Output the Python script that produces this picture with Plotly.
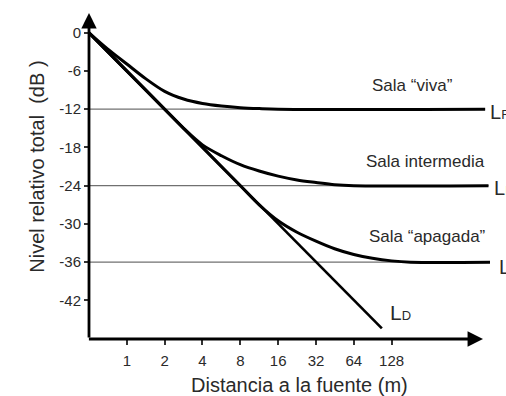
import plotly.graph_objects as go

# Distance (m) and total relative level (dB) for each room type
dist_direct = [0.5, 107]
level_direct = [0, -46.4]

dist_viva = [0.5, 0.71, 1.0, 1.41, 2.0, 2.83, 4.0, 5.66, 8.0, 11.3, 16, 710]
level_viva = [0, -2.6, -4.9, -7.2, -9.2, -10.4, -11.1, -11.5, -11.75, -11.9, -12, -12]

dist_inter = [0.5, 1.0, 2.0, 2.83, 4.0, 5.66, 8.0, 11.3, 16, 22.6, 32, 45, 64, 755]
level_inter = [0, -6, -12, -15, -17.6, -19.3, -20.7, -21.7, -22.5, -23.1, -23.5, -23.85, -24, -24]

dist_apag = [0.5, 2.0, 8.0, 11.3, 16, 22.6, 32, 45, 64, 90, 128, 181, 826]
level_apag = [0, -12, -24, -27, -29.5, -31.3, -32.7, -33.9, -34.8, -35.4, -35.8, -36, -36]

# Reverberant field levels (horizontal reference lines)
reverb_levels = [-12, -24, -36]
reverb_ends = [710, 755, 826]

x_ticks = [1, 2, 4, 8, 16, 32, 64, 128]
y_ticks = [0, -6, -12, -18, -24, -30, -36, -42]

FONT = "Arial, Liberation Sans, sans-serif"
TXT = "#2a2a2a"

fig = go.Figure()

for lvl, xe in zip(reverb_levels, reverb_ends):
    fig.add_trace(go.Scatter(x=[0.5, xe], y=[lvl, lvl], mode="lines",
                             line=dict(color="#707070", width=1.3),
                             hoverinfo="skip", showlegend=False))

fig.add_trace(go.Scatter(x=dist_direct, y=level_direct, mode="lines",
                         line=dict(color="black", width=2.6), showlegend=False))

for xs, ys in [(dist_viva, level_viva), (dist_inter, level_inter), (dist_apag, level_apag)]:
    fig.add_trace(go.Scatter(x=xs, y=ys, mode="lines",
                             line=dict(color="black", width=3, shape="spline", smoothing=0.9),
                             showlegend=False))


def label(x, y, text, size, xanchor="center", angle=0):
    return dict(x=x, y=y, xref="paper", yref="paper", showarrow=False,
                xanchor=xanchor, yanchor="middle", textangle=angle, text=text,
                font=dict(size=size, color=TXT, family=FONT))


sub = "L<span style='font-size:13px'>{}</span>"

annotations = [
    # axis arrows
    dict(x=0, y=1, ax=0, ay=0, xref="x domain", yref="y domain",
         axref="x domain", ayref="y domain", showarrow=True, arrowhead=2,
         arrowsize=1.1, arrowwidth=2.8, arrowcolor="black", text="", standoff=0, startstandoff=0),
    dict(x=0.9825, y=0, ax=-0.004, ay=0, xref="x domain", yref="y domain",
         axref="x domain", ayref="y domain", showarrow=True, arrowhead=2,
         arrowsize=1.1, arrowwidth=2.8, arrowcolor="black", text="", standoff=0, startstandoff=0),
    # axis titles
    label(-0.13, 0.528, "Nivel relativo total\u00a0\u00a0(dB\u00a0)", 20, angle=-90),
    label(0.524, -0.141, "Distancia a la fuente (m)", 20),
    # room labels
    label(0.8055, 0.779, "Sala \u201cviva\u201d", 17),
    label(0.838, 0.543, "Sala intermedia", 17),
    label(0.845, 0.313, "Sala \u201capagada\u201d", 17),
    # level labels
    label(0.746, 0.08, sub.format("D"), 21, xanchor="left"),
    label(0.995, 0.696, sub.format("R"), 20, xanchor="left"),
    label(1.005, 0.463, sub.format("R"), 20, xanchor="left"),
    label(1.017, 0.221, sub.format("R"), 20, xanchor="left"),
]

fig.update_layout(
    width=506, height=396,
    margin=dict(l=89, r=16, t=13, b=57),
    paper_bgcolor="white", plot_bgcolor="white",
    font=dict(family=FONT, color=TXT),
    annotations=annotations,
    xaxis=dict(type="log", range=[-0.30103, 2.8899], tickvals=x_ticks,
               ticktext=[str(v) for v in x_ticks], ticks="outside", ticklen=5,
               tickwidth=1.5, tickcolor="#333", showgrid=False, zeroline=False,
               showline=False, ticklabelstandoff=3,
               tickfont=dict(size=15, color=TXT, family=FONT)),
    yaxis=dict(range=[-48.06, 3.1], tickvals=y_ticks, ticktext=[str(v) for v in y_ticks],
               ticks="outside", ticklen=4, tickwidth=1.5, tickcolor="#333",
               showgrid=False, zeroline=False, showline=False,
               tickfont=dict(size=15, color=TXT, family=FONT)),
)

fig.write_html("out.html")
